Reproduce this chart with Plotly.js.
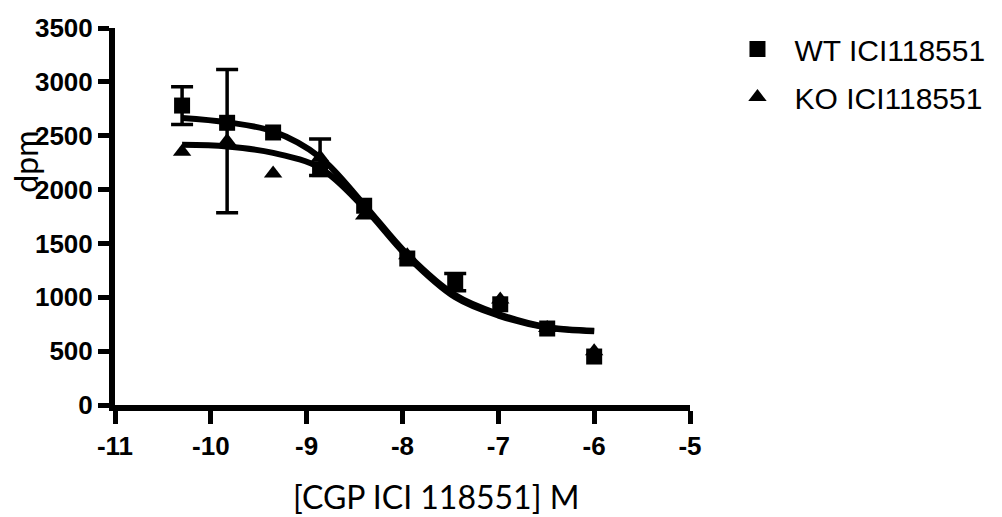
<!DOCTYPE html>
<html><head><meta charset="utf-8">
<script src="https://cdn.plot.ly/plotly-3.0.1.min.js"></script>
<style>body{margin:0;background:#fff}#chart{width:1002px;height:517px}</style>
</head><body><div id="chart"></div>
<script>
// Data
const logConc = [-10.3, -9.83, -9.35, -8.86, -8.4, -7.95, -7.45, -6.98, -6.49, -6.0];
const wtDpm   = [2780, 2620, 2530, 2190, 1850, 1360, 1140, 935, 710, 450];
const wtErr   = [175, NaN, NaN, NaN, NaN, NaN, 80, NaN, NaN, NaN];
const koDpm   = [2350, 2450, 2150, 2300, 1760, 1390, 1100, 980, 715, 500];
const koErr   = [NaN, 665, NaN, 170, NaN, NaN, NaN, NaN, NaN, NaN];
// Fitted curves
const fitX    = [-10.3, -9.83, -9.35, -8.86, -8.4, -7.95, -7.45, -7.0, -6.5, -6.0];
const wtFit   = [2665, 2625, 2540, 2300, 1860, 1400, 1020, 845, 725, 690];
const koFit   = [2415, 2400, 2340, 2200, 1830, 1380, 1000, 830, 720, 685];
const xTicks  = [-11, -10, -9, -8, -7, -6, -5];
const yTicks  = [0, 500, 1000, 1500, 2000, 2500, 3000, 3500];

const tickFont = {family: 'Liberation Sans, Arial, sans-serif', size: 26, color: '#000', weight: 700};
const labelFont = {family: 'Lato, Open Sans, sans-serif', size: 32, color: '#000'};
const traces = [
  {x: fitX, y: wtFit, mode: 'lines', line: {color: '#000', width: 6, shape: 'spline'}, showlegend: false, hoverinfo: 'skip'},
  {x: fitX, y: koFit, mode: 'lines', line: {color: '#000', width: 6, shape: 'spline'}, showlegend: false, hoverinfo: 'skip'},
  {x: logConc, y: wtDpm, name: 'WT ICI118551', mode: 'markers', legendgroup: 'a',
   marker: {symbol: 'square', size: 16, color: '#000'},
   error_y: {type: 'data', array: wtErr, visible: true, color: '#000', thickness: 3.5, width: 11}},
  {x: logConc, y: koDpm, name: 'KO ICI118551', mode: 'markers', legendgroup: 'b',
   marker: {symbol: 'triangle-up', size: 16, color: '#000'},
   error_y: {type: 'data', array: koErr, visible: true, color: '#000', thickness: 3.5, width: 11}}
];
const layout = {
  width: 1002, height: 517,
  margin: {l: 115, r: 308, t: 28, b: 112},
  paper_bgcolor: '#fff', plot_bgcolor: '#fff',
  xaxis: {range: [-11, -5], tickvals: xTicks, ticktext: xTicks.map(String), showgrid: false, zeroline: false,
          showline: true, linewidth: 6, linecolor: '#000', ticks: 'outside', ticklen: 13, tickwidth: 5, tickcolor: '#000',
          tickfont: tickFont},
  yaxis: {range: [0, 3500], tickvals: yTicks, showgrid: false, zeroline: false,
          showline: true, linewidth: 6, linecolor: '#000', ticks: 'outside', ticklen: 11, tickwidth: 5, tickcolor: '#000',
          tickfont: tickFont},
  annotations: [
    {text: 'dpm', textangle: -90, xref: 'paper', yref: 'paper', x: -0.155, y: 0.645, xanchor: 'center', yanchor: 'middle',
     showarrow: false, font: labelFont},
    {text: '[CGP ICI 118551] M', xref: 'paper', yref: 'paper', x: 0.558, y: -0.244, xanchor: 'center', yanchor: 'middle',
     showarrow: false, font: labelFont}
  ],
  legend: {x: 1.053, y: 1.013, xanchor: 'left', yanchor: 'top', itemwidth: 64,
           font: {family: 'Liberation Sans, Arial, sans-serif', size: 30, color: '#000'},
           tracegroupgap: 6, traceorder: 'grouped', bgcolor: 'rgba(0,0,0,0)'}
};
Plotly.newPlot('chart', traces, layout, {displayModeBar: false, staticPlot: true});
</script></body></html>
